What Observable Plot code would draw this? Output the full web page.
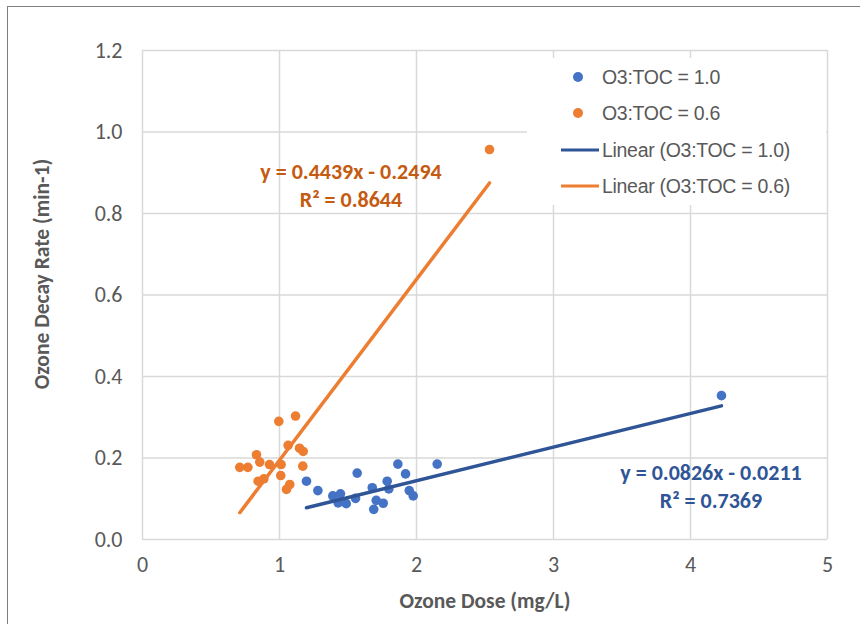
<!DOCTYPE html>
<html>
<head>
<meta charset="utf-8">
<script src="https://cdn.jsdelivr.net/npm/d3@7"></script>
<script src="https://cdn.jsdelivr.net/npm/@observablehq/plot@0.6"></script>
<style>
  html, body { margin: 0; padding: 0; background: #fff; }
  #wrap { position: relative; width: 860px; height: 624px; overflow: hidden; background: #fff; }
  #frame { position: absolute; left: 7px; top: 6px; width: 900px; height: 700px; border: 1.5px solid #7f7f7f; box-sizing: border-box; }
  #chart { position: absolute; left: 0; top: 0; }
  .ov { position: absolute; white-space: nowrap; }
  .cal { font-family: Carlito, "Open Sans", sans-serif; }
  .eq { font-weight: bold; font-size: 22px; text-align: center; line-height: 27.5px; transform: translate(-50%, -50%); }
  #legend { position: absolute; left: 527px; top: 58px; width: 299px; height: 147px; background: #fff; }
  .lg { position: absolute; font-family: "Liberation Sans", Arial, sans-serif; font-size: 19.5px; color: #595959; transform: translateY(-50%); letter-spacing: -0.3px; }
  .ldot { position: absolute; width: 10px; height: 10px; border-radius: 50%; transform: translate(-50%, -50%); }
  .lline { position: absolute; height: 3px; transform: translateY(-50%); }
</style>
</head>
<body>
<div id="wrap">
  <div id="frame"></div>
  <div id="chart"></div>
</div>
<script>
// ---- data ----
const xTicks = [0, 1, 2, 3, 4, 5];
const yTicks = [0, 0.2, 0.4, 0.6, 0.8, 1.0, 1.2];

const seriesNames = ["O3:TOC = 1.0", "O3:TOC = 0.6"];
const trendNames = ["Linear (O3:TOC = 1.0)", "Linear (O3:TOC = 0.6)"];

const blueX = [1.197, 1.280, 1.389, 1.445, 1.428, 1.487, 1.555, 1.567, 1.677, 1.706,
               1.688, 1.757, 1.786, 1.798, 1.864, 1.920, 1.947, 1.976, 2.151, 4.226];
const blueY = [0.143, 0.120, 0.107, 0.112, 0.090, 0.088, 0.101, 0.163, 0.127, 0.096,
               0.074, 0.089, 0.143, 0.124, 0.185, 0.161, 0.120, 0.107, 0.185, 0.353];

const orangeX = [0.995, 1.117, 1.063, 1.146, 1.173, 0.832, 0.856, 0.927, 1.012, 0.710,
                 0.769, 1.170, 1.009, 0.844, 0.886, 1.075, 1.051, 2.533];
const orangeY = [0.290, 0.303, 0.231, 0.224, 0.216, 0.208, 0.190, 0.184, 0.184, 0.177,
                 0.177, 0.180, 0.157, 0.143, 0.149, 0.135, 0.123, 0.957];

const blueSlope = 0.0826, blueIntercept = -0.0211, blueR2 = "0.7369";
const orangeSlope = 0.4439, orangeIntercept = -0.2494, orangeR2 = "0.8644";

const colors = { blueDot: "#4472c4", orangeDot: "#ed7d31", blueLine: "#2f5597", orangeLine: "#ed7d31",
                 blueText: "#2f5597", orangeText: "#c55a11" };

// ---- build tables ----
const blue = blueX.map((x, i) => ({ x, y: blueY[i] }));
const orange = orangeX.map((x, i) => ({ x, y: orangeY[i] }));
function trend(xs, m, b) {
  const [lo, hi] = d3.extent(xs);
  return [{ x: lo, y: m * lo + b }, { x: hi, y: m * hi + b }];
}
const blueTrend = trend(blueX, blueSlope, blueIntercept);
const orangeTrend = trend(orangeX, orangeSlope, orangeIntercept);

const tickFont = { fontSize: 22, fill: "#595959" };

const chart = Plot.plot({
  width: 860,
  height: 624,
  marginLeft: 142,
  marginRight: 33,
  marginTop: 50,
  marginBottom: 85,
  x: { domain: [0, 5] },
  y: { domain: [0, 1.2] },
  style: { fontFamily: 'Carlito, "Open Sans", sans-serif', background: "transparent", overflow: "visible" },
  marks: [
    Plot.gridX(xTicks, { stroke: "#d9d9d9", strokeOpacity: 1, strokeWidth: 1.5 }),
    Plot.gridY(yTicks, { stroke: "#d9d9d9", strokeOpacity: 1, strokeWidth: 1.5 }),
    Plot.axisX(xTicks, { tickSize: 0, tickPadding: 17, label: null, tickFormat: d => String(d), ...tickFont }),
    Plot.axisY(yTicks, { tickSize: 0, tickPadding: 20, label: null, tickFormat: d => d.toFixed(1), ...tickFont }),
    Plot.dot(blue, { x: "x", y: "y", r: 4.8, fill: colors.blueDot, stroke: "none" }),
    Plot.dot(orange, { x: "x", y: "y", r: 4.8, fill: colors.orangeDot, stroke: "none" }),
    Plot.line(blueTrend, { x: "x", y: "y", stroke: colors.blueLine, strokeWidth: 3.5 }),
    Plot.line(orangeTrend, { x: "x", y: "y", stroke: colors.orangeLine, strokeWidth: 3.5 })
  ]
});
document.getElementById("chart").appendChild(chart);

const wrap = document.getElementById("wrap");
function add(html, cls, style) {
  const d = document.createElement("div");
  d.className = cls;
  d.innerHTML = html;
  Object.assign(d.style, style);
  wrap.appendChild(d);
  return d;
}

// Axis titles
add("Ozone Dose (mg/L)", "ov cal", { left: "485px", top: "601px", transform: "translate(-50%,-50%)",
  fontSize: "21.5px", fontWeight: "bold", color: "#595959" });
add("Ozone Decay Rate (min-1)", "ov cal", { left: "42px", top: "274px", transform: "translate(-50%,-50%) rotate(-90deg)",
  fontSize: "21.5px", fontWeight: "bold", color: "#595959" });

// Equations
const fmt = (m, b) => `y = ${m.toFixed(4)}x - ${Math.abs(b).toFixed(4)}`;
add(`${fmt(orangeSlope, orangeIntercept)}<br>R² = ${orangeR2}`, "ov cal eq", { left: "351px", top: "185px", color: colors.orangeText });
add(`${fmt(blueSlope, blueIntercept)}<br>R² = ${blueR2}`, "ov cal eq", { left: "711px", top: "486px", color: colors.blueText });

// Legend
const lg = document.createElement("div");
lg.id = "legend";
wrap.appendChild(lg);
const ox = 527, oy = 58;
const rows = [
  { type: "dot", color: colors.blueDot, label: seriesNames[0], y: 76.5 },
  { type: "dot", color: colors.orangeDot, label: seriesNames[1], y: 113 },
  { type: "line", color: colors.blueLine, label: trendNames[0], y: 150 },
  { type: "line", color: colors.orangeLine, label: trendNames[1], y: 186 }
];
rows.forEach(r => {
  if (r.type === "dot") {
    const d = document.createElement("div");
    d.className = "ldot";
    Object.assign(d.style, { left: (578 - ox) + "px", top: (r.y - oy) + "px", background: r.color });
    lg.appendChild(d);
  } else {
    const d = document.createElement("div");
    d.className = "lline";
    Object.assign(d.style, { left: (561 - ox) + "px", width: "38px", top: (r.y - oy) + "px", background: r.color });
    lg.appendChild(d);
  }
  const t = document.createElement("div");
  t.className = "lg";
  t.textContent = r.label;
  Object.assign(t.style, { left: (602 - ox) + "px", top: (r.y - oy) + "px" });
  lg.appendChild(t);
});
</script>
</body>
</html>
